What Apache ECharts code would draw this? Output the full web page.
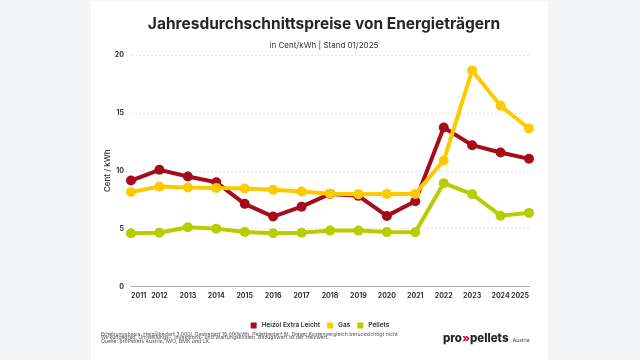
<!DOCTYPE html>
<html>
<head>
<meta charset="utf-8">
<script src="https://cdn.jsdelivr.net/npm/echarts@6/dist/echarts.min.js"></script>
<style>
  html, body { margin: 0; padding: 0; background: #f4f5f7; }
  #main { width: 640px; height: 360px; }
</style>
</head>
<body>
<div id="main"></div>
<script>
// Jahre (x-Achse)
var years = ['2011', '2012', '2013', '2014', '2015', '2016', '2017', '2018', '2019', '2020', '2021', '2022', '2023', '2024', '2025'];
// Preise in Cent/kWh
var heizoel = [9.15, 10.08, 9.5, 9.0, 7.14, 6.04, 6.9, 8.0, 7.83, 6.1, 7.37, 13.74, 12.21, 11.58, 11.03];
var gas = [8.17, 8.63, 8.55, 8.52, 8.46, 8.35, 8.2, 8.02, 7.98, 8.0, 8.0, 10.88, 18.67, 15.61, 13.65];
var pellets = [4.6, 4.65, 5.12, 5.0, 4.71, 4.6, 4.65, 4.83, 4.83, 4.7, 4.69, 8.93, 7.98, 6.12, 6.36];
var yTicks = [0, 5, 10, 15, 20];

var FONT = 'Inter';
var chart = echarts.init(document.getElementById('main'));

var option = {
  backgroundColor: '#f4f5f7',
  textStyle: { fontFamily: FONT },
  title: {
    text: 'Jahresdurchschnittspreise von Energieträgern',
    subtext: 'in Cent/kWh | Stand 01/2025',
    left: 319,
    textAlign: 'center',
    top: 11,
    itemGap: 10,
    textStyle: { fontFamily: FONT, fontSize: 15.5, fontWeight: 700, color: '#262626' },
    subtextStyle: { fontFamily: FONT, fontSize: 8, color: '#333' }
  },
  graphic: [
    { type: 'rect', z: -10, shape: { x: 91, y: 1, width: 457, height: 359 }, style: { fill: '#ffffff' } },
    {
      type: 'text', left: 101, top: 331.5,
      style: {
        text: 'Erhebungsbasis: Heizölbedarf 3.000l, Gasbedarf 15.000kWh, Pelletbedarf 6t. Dieser Kostenvergleich berücksichtigt nicht\nWirkungsgrad, Umstellungs-, Investitons- und Wartungskosten. Bezugswert ist der Heizwert.\nQuelle: proPellets Austria, IWO, BMK und LK.',
        font: '5.2px ' + FONT, fill: '#555', lineHeight: 3.7
      }
    },
    {
      type: 'text', left: 443, top: 332.5,
      style: {
        text: '{a|pro}{b|»}{a|pellets} {c|Austria}',
        rich: {
          a: { fontFamily: FONT, fontSize: 11.5, fontWeight: 800, fill: '#222', color: '#222' },
          b: { fontFamily: FONT, fontSize: 11.5, fontWeight: 800, fill: '#c8102e', color: '#c8102e' },
          c: { fontFamily: FONT, fontSize: 5, fill: '#444', color: '#444', padding: [3, 0, 0, 1] }
        }
      }
    }
  ],
  legend: {
    top: 317,
    left: 'center',
    icon: 'rect',
    itemWidth: 6,
    itemHeight: 6,
    itemGap: 7,
    textStyle: { fontFamily: FONT, fontSize: 6.5, fontWeight: 600, color: '#333' },
    data: ['Heizöl Extra Leicht', 'Gas', 'Pellets']
  },
  grid: { left: 131, right: 111, top: 55, bottom: 73.5 },
  xAxis: {
    type: 'category',
    data: years,
    boundaryGap: false,
    axisLine: { lineStyle: { color: '#aaa', width: 1 } },
    axisTick: { show: false },
    axisLabel: {
      interval: 0, margin: 6, fontSize: 7, fontWeight: 700, color: '#333',
      alignMinLabel: 'left', alignMaxLabel: 'right'
    }
  },
  yAxis: {
    type: 'value',
    min: yTicks[0],
    max: yTicks[yTicks.length - 1],
    interval: 5,
    name: 'Cent / kWh',
    nameLocation: 'middle',
    nameGap: 19,
    nameMoveOverlap: false,
    nameTextStyle: { fontFamily: FONT, fontSize: 8, fontWeight: 500, color: '#333' },
    axisLine: { show: false },
    axisTick: { show: false },
    axisLabel: { fontSize: 7, fontWeight: 700, color: '#333', margin: 7 },
    splitLine: { lineStyle: { color: '#dcdcdc', type: [2, 2], width: 0.8 } }
  },
  series: [
    {
      name: 'Heizöl Extra Leicht', type: 'line', data: heizoel, color: '#a50d1b',
      symbol: 'circle', symbolSize: 10, lineStyle: { width: 4 }, z: 2
    },
    {
      name: 'Gas', type: 'line', data: gas, color: '#fdca00',
      symbol: 'circle', symbolSize: 10, lineStyle: { width: 4 }, z: 3
    },
    {
      name: 'Pellets', type: 'line', data: pellets, color: '#b7cd00',
      symbol: 'circle', symbolSize: 10, lineStyle: { width: 4 }, z: 4
    }
  ]
};

chart.setOption(option);
</script>
</body>
</html>
